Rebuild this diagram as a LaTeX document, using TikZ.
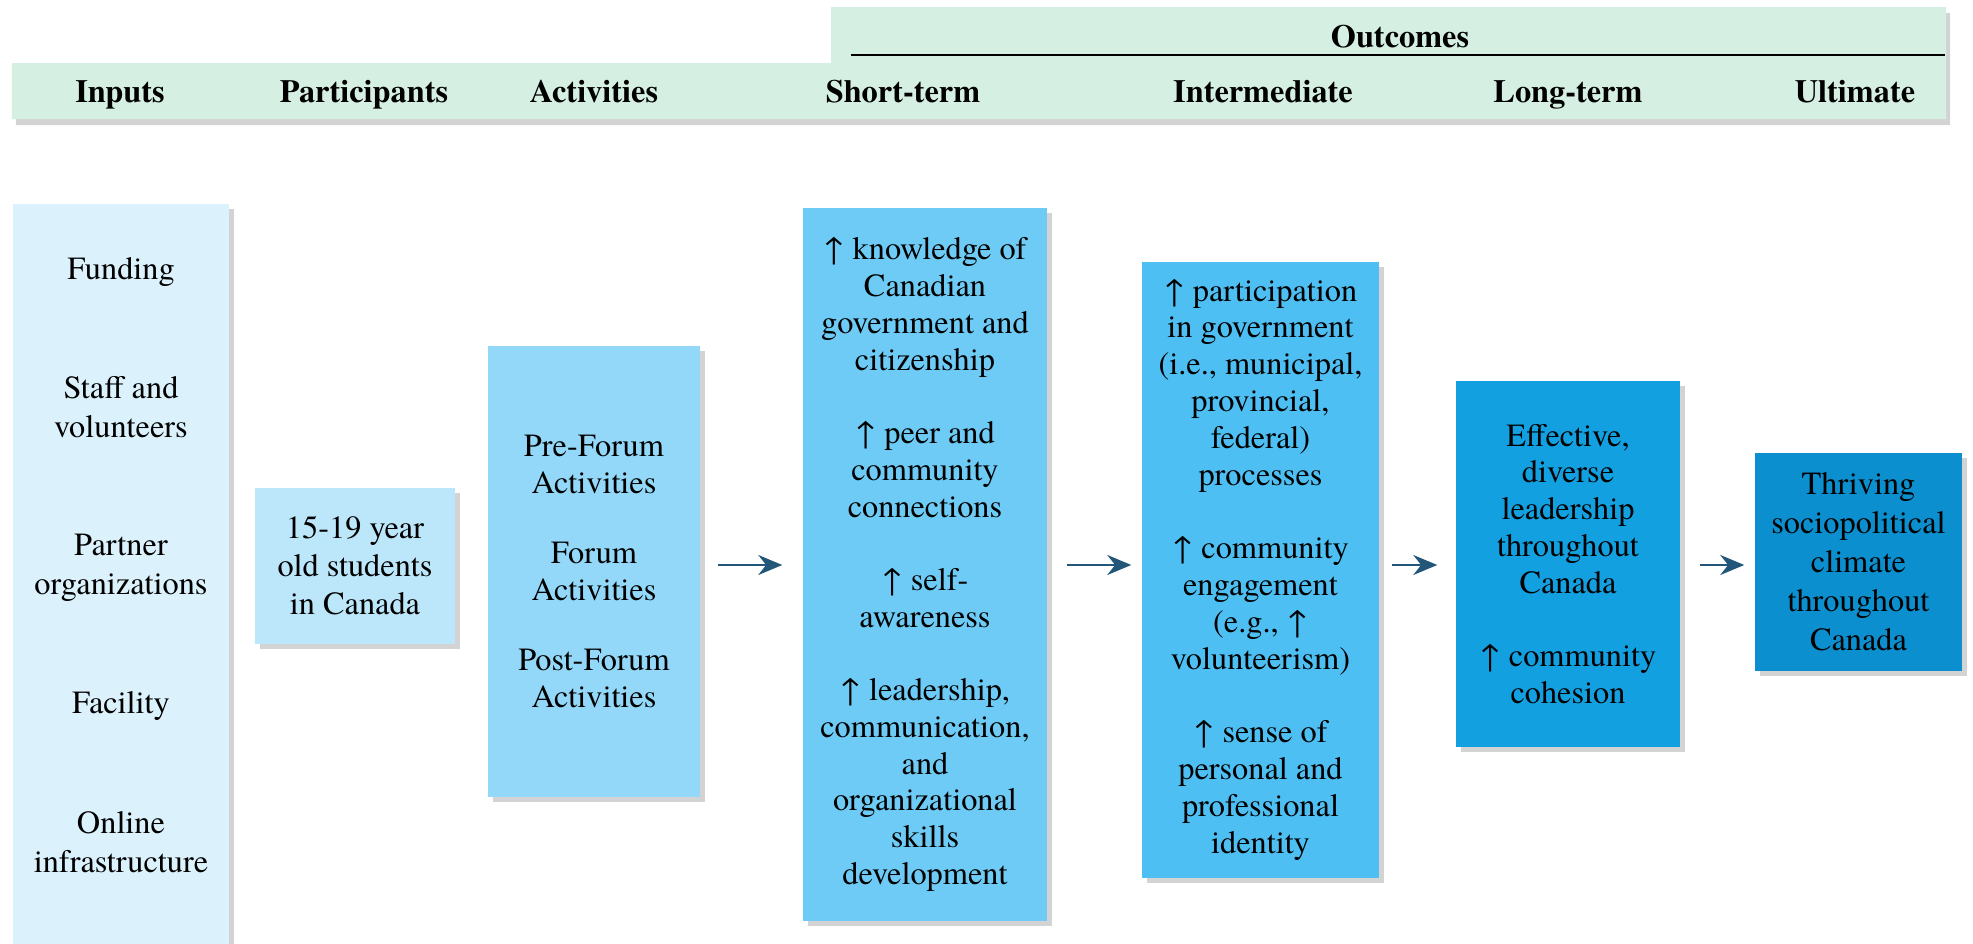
\documentclass[tikz,border=0pt]{standalone}
\usepackage{fontspec}
\setmainfont{TeX Gyre Termes}
\usepackage{xcolor}
\usepackage{tikz}
\usetikzlibrary{arrows.meta,positioning,calc,shadows}
\definecolor{hdrgreen}{HTML}{D5F0E2}
\definecolor{inpblue}{HTML}{DBF1FC}
\definecolor{parblue}{HTML}{BCE6F9}
\definecolor{actblue}{HTML}{93D8F8}
\definecolor{stblue}{HTML}{6DCBF5}
\definecolor{imblue}{HTML}{4DBFF3}
\definecolor{ltblue}{HTML}{12A0E0}
\definecolor{ulblue}{HTML}{0B8FCE}
\definecolor{arrowblue}{HTML}{23577A}

\begin{document}
\begin{tikzpicture}[font=\fontsize{9.2}{10.5}\selectfont]
        \tikzstyle{b}=[inner sep=0pt,align=center,drop shadow={shadow xshift=0.05cm,shadow yshift=-0.05cm,opacity=0.35}]
        \tikzstyle{hl}=[font=\fontsize{9.2}{11}\selectfont\bfseries,anchor=base]
        \tikzstyle{arr}=[-{Stealth[length=2.4mm,width=2mm]},draw=arrowblue,line width=0.6pt]
        \useasboundingbox (0,0) rectangle (19.73,-9.44);
        % header band
        \fill[hdrgreen,drop shadow={shadow xshift=0.04cm,shadow yshift=-0.06cm,opacity=0.35}]
          (0.12,-0.63) -- (8.31,-0.63) -- (8.31,-0.07) -- (19.46,-0.07) -- (19.46,-1.19) -- (0.12,-1.19) -- cycle;
        \draw[line width=0.8pt] (8.51,-0.55) -- (19.45,-0.55);
        \node[hl] (hout) at (14.00,-0.47) {Outcomes};
        \node[hl] (hinp) at (1.20,-1.02) {Inputs};
        \node[hl] (hpar) at (3.64,-1.02) {Participants};
        \node[hl] (hact) at (5.94,-1.02) {Activities};
        \node[hl] (hst) at (9.03,-1.02) {Short-term};
        \node[hl] (him) at (12.63,-1.02) {Intermediate};
        \node[hl] (hlt) at (15.68,-1.02) {Long-term};
        \node[hl] (hul) at (18.55,-1.02) {Ultimate};
        % columns
        \node[b,fill=inpblue,minimum width=2.16cm,minimum height=7.42cm] (inp) at (1.21,-5.75) {};
        \node[align=center,font=\fontsize{9.2}{11.2}\selectfont] (inptxt) at ([yshift=0.1cm]inp.center)
          {Funding\\[0.8cm]Staff and\\volunteers\\[0.78cm]Partner\\organizations\\[0.8cm]Facility\\[0.8cm]Online\\infrastructure};
        \node[b,fill=parblue,minimum width=2.0cm,minimum height=1.56cm,font=\fontsize{9.2}{10.8}\selectfont] (par) at (3.55,-5.66)
          {15-19 year\\old students\\in Canada};
        \node[b,fill=actblue,minimum width=2.12cm,minimum height=4.51cm] (act) at (5.94,-5.715)
          {Pre-Forum\\Activities\\[9.5pt]Forum\\Activities\\[9.5pt]Post-Forum\\Activities};
        \node[b,fill=stblue,minimum width=2.44cm,minimum height=7.13cm] (st) at (9.25,-5.645)
          {↑ knowledge of\\Canadian\\government and\\citizenship\\[10.3pt]↑ peer and\\community\\connections\\[10.3pt]↑ self-\\awareness\\[10.3pt]↑ leadership,\\communication,\\and\\organizational\\skills\\development};
        \node[b,fill=imblue,minimum width=2.37cm,minimum height=6.16cm] (im) at (12.605,-5.695)
          {↑ participation\\in government\\(i.e., municipal,\\provincial,\\federal)\\processes\\[10.3pt]↑ community\\engagement\\(e.g., ↑\\volunteerism)\\[10.3pt]↑ sense of\\personal and\\professional\\identity};
        \node[b,fill=ltblue,minimum width=2.24cm,minimum height=3.66cm] (lt) at (15.68,-5.64)
          {Effective,\\diverse\\leadership\\throughout\\Canada\\[10.3pt]↑ community\\cohesion};
        \node[b,fill=ulblue,minimum width=2.07cm,minimum height=2.18cm,font=\fontsize{9.2}{11.1}\selectfont] (ul) at (18.585,-5.62)
          {Thriving\\sociopolitical\\climate\\throughout\\Canada};
        % arrows between outcome stages
        \coordinate (ay) at (0,-5.65);
        \draw[arr,shorten <=0.17cm,shorten >=0.2cm] (act.east |- ay) -- (st.west |- ay);
        \draw[arr,shorten <=0.19cm,shorten >=0.1cm] (st.east |- ay) -- (im.west |- ay);
        \draw[arr,shorten <=0.12cm,shorten >=0.18cm] (im.east |- ay) -- (lt.west |- ay);
        \draw[arr,shorten <=0.19cm,shorten >=0.1cm] (lt.east |- ay) -- (ul.west |- ay);
      \end{tikzpicture}
\end{document}
